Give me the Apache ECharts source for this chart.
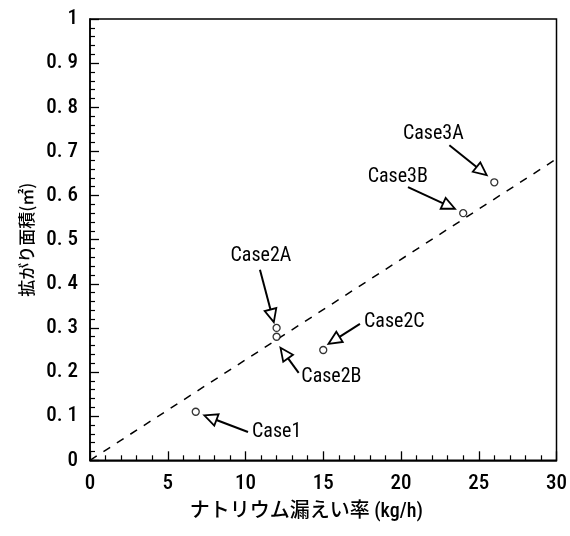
<!DOCTYPE html>
<html><head><meta charset="utf-8">
<script src="https://cdn.jsdelivr.net/npm/echarts@6/dist/echarts.min.js"></script>
<style>html,body{margin:0;padding:0;background:#fff}#c{width:570px;height:536px}</style>
</head><body><div id="c"></div>
<script>
// ---- data ----
const caseNames = ['Case1','Case2A','Case2B','Case2C','Case3B','Case3A'];
const caseX = [6.8, 12, 12, 15, 24, 26];
const caseY = [0.11, 0.30, 0.28, 0.25, 0.56, 0.63];
const trendLine = [[0, 0.0], [30, 0.683]];
// annotation arrows: [tailX, tailY, tipX, tipY]
const arrowLines = [
  [10.16, 0.064, 7.35, 0.102],
  [10.93, 0.432, 11.82, 0.313],
  [13.42, 0.198, 12.25, 0.255],
  [17.36, 0.309, 15.34, 0.264],
  [20.45, 0.619, 23.47, 0.570],
  [23.11, 0.714, 25.51, 0.646]
];
// label anchor points (data coords)
const labelAnchors = [
  [10.42, 0.064],
  [10.99, 0.462],
  [13.59, 0.189],
  [17.62, 0.313],
  [19.79, 0.642],
  [22.08, 0.740]
];
const labelAlign = ['left','center','left','left','center','center'];
const xTickLabels = ['0','5','10','15','20','25','30'];
const yTickLabels = ['0','0. 1','0. 2','0. 3','0. 4','0. 5','0. 6','0. 7','0. 8','0. 9','1'];
const xTitle = 'ナトリウム漏えい率 (kg/h)';
const yTitle = '拡がり面積(㎡)';

// ---- chart ----
const narrow = "'Roboto Condensed','Noto Sans CJK JP',sans-serif";
const cjk = "'Noto Sans CJK JP',sans-serif";
const mixed = "'Roboto Condensed','Noto Sans CJK JP',sans-serif";
const chart = echarts.init(document.getElementById('c'), null, {renderer:'canvas'});

const annData = arrowLines.map((a, i) => a.concat(labelAnchors[i]));

const axisCommon = {
  axisLine: {show: true, onZero: false, lineStyle: {color: '#000', width: 1.5}},
  axisTick: {show: true, inside: true, length: 9, lineStyle: {color: '#000', width: 1.3}},
  minorTick: {show: true, splitNumber: 5, length: 5, lineStyle: {color: '#000', width: 1.2}},
  splitLine: {show: false},
  minorSplitLine: {show: false}
};

chart.setOption({
  animation: false,
  backgroundColor: '#fff',
  grid: {left: 90, right: 10.5, top: 19, bottom: 75.7, show: true, borderColor: '#000', borderWidth: 1.5, backgroundColor: 'transparent'},
  xAxis: Object.assign({
    type: 'value', min: 0, max: 30, interval: 5,
    name: xTitle, nameLocation: 'middle', nameGap: 42,
    nameTextStyle: {fontFamily: mixed, fontWeight: 500, fontSize: 20, color: '#000', padding: [0, 34, 0, 0]},
    axisLabel: {fontFamily: narrow, fontWeight: 500, fontSize: 21, color: '#000', margin: 13,
      formatter: (v, i) => xTickLabels[Math.round(v / 5)]}
  }, axisCommon),
  yAxis: Object.assign({
    type: 'value', min: 0, max: 1, interval: 0.1,
    name: yTitle, nameLocation: 'middle', nameGap: 55,
    nameTextStyle: {fontFamily: cjk, fontWeight: 500, fontSize: 17, color: '#000'},
    axisLabel: {fontFamily: narrow, fontWeight: 500, fontSize: 21, color: '#000', margin: 12,
      formatter: (v) => yTickLabels[Math.round(v * 10)]}
  }, axisCommon),
  series: [
    {
      type: 'line', data: trendLine, showSymbol: false, silent: true,
      lineStyle: {color: '#000', width: 1.5, type: [8, 8]}, z: 2
    },
    {
      type: 'scatter', data: caseX.map((x, i) => [x, caseY[i]]),
      symbol: 'circle', symbolSize: 7,
      itemStyle: {color: '#fff', borderColor: '#000', borderWidth: 1.3}, z: 5
    },
    {
      type: 'custom', data: annData, z: 6,
      encode: {x: [0, 2, 4], y: [1, 3, 5]},
      renderItem: function (params, api) {
        const i = params.dataIndex;
        const p1 = api.coord([api.value(0), api.value(1)]);
        const p2 = api.coord([api.value(2), api.value(3)]);
        const lp = api.coord([api.value(4), api.value(5)]);
        const dx = p2[0] - p1[0], dy = p2[1] - p1[1];
        const len = Math.sqrt(dx * dx + dy * dy);
        const ux = dx / len, uy = dy / len;
        const hl = 13, hw = 6;
        const bx = p2[0] - ux * hl, by = p2[1] - uy * hl;
        const nx = -uy, ny = ux;
        return {
          type: 'group',
          children: [
            {type: 'line', shape: {x1: p1[0], y1: p1[1], x2: bx, y2: by},
              style: {stroke: '#000', lineWidth: 2}},
            {type: 'polygon', shape: {points: [[p2[0], p2[1]], [bx + nx * hw, by + ny * hw], [bx - nx * hw, by - ny * hw]]},
              style: {fill: '#fff', stroke: '#000', lineWidth: 1.8}},
            {type: 'text', x: lp[0], y: lp[1],
              style: {text: caseNames[i], fontFamily: narrow, fontWeight: 'normal', fontSize: 20, fill: '#000',
                align: labelAlign[i], verticalAlign: 'middle'}}
          ]
        };
      }
    }
  ]
});
</script>
</body></html>
